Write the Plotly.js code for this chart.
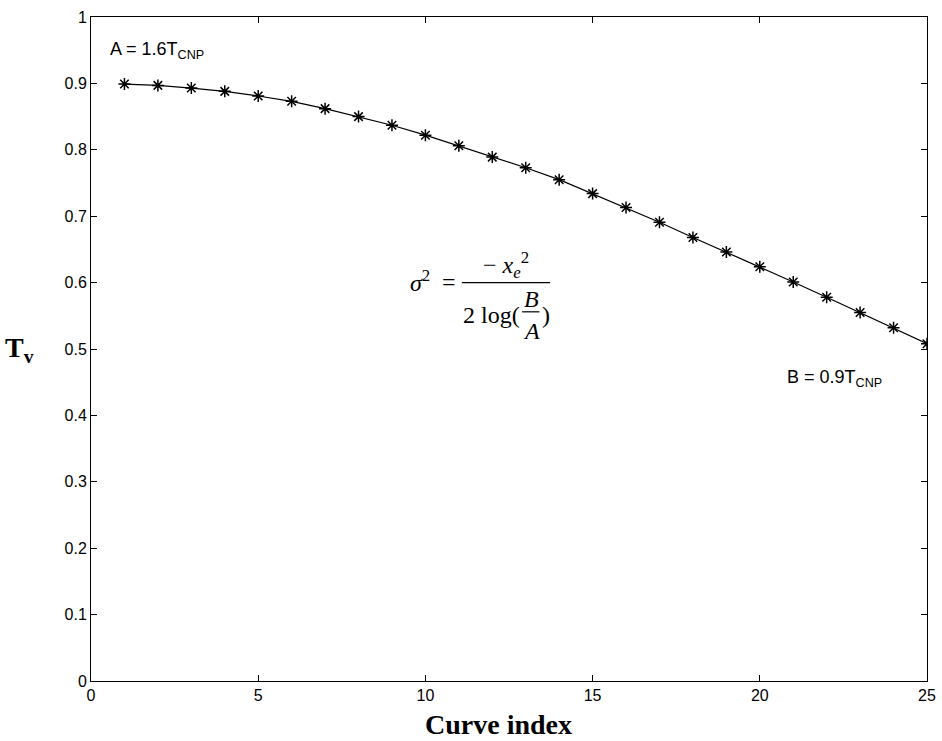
<!DOCTYPE html>
<html>
<head>
<meta charset="utf-8">
<script src="https://cdn.plot.ly/plotly-3.0.1.min.js"></script>
<style>html,body{margin:0;padding:0;background:#fff;}#chart{width:942px;height:741px;}</style>
</head>
<body>
<div id="chart"></div>
<script>
const curveIndex = [1,2,3,4,5,6,7,8,9,10,11,12,13,14,15,16,17,18,19,20,21,22,23,24,25];
const tvValues = [0.899,0.897,0.893,0.888,0.881,0.873,0.862,0.850,0.837,0.822,0.806,0.789,0.773,0.755,0.734,0.713,0.691,0.668,0.646,0.624,0.601,0.578,0.555,0.532,0.508];
const xTicks = [0,5,10,15,20,25];
const yTicks = [0,0.1,0.2,0.3,0.4,0.5,0.6,0.7,0.8,0.9,1];

const trace = {
  x: curveIndex, y: tvValues, type: 'scatter', mode: 'lines+markers',
  line: {color: '#000', width: 1.2},
  marker: {symbol: 'asterisk-open', size: 10, color: '#000', line: {color: '#000', width: 1.5}},
  showlegend: false, hoverinfo: 'skip'
};

const serif = 'Liberation Serif, Times New Roman, serif';
const sans = 'Liberation Sans, Arial, sans-serif';

const layout = {
  width: 942, height: 741,
  margin: {l: 91, r: 15, t: 17, b: 60},
  paper_bgcolor: '#fff', plot_bgcolor: '#fff',
  xaxis: {
    range: [0, 25], tickvals: xTicks, ticktext: xTicks.map(String),
    ticks: 'inside', ticklen: 6, tickcolor: '#000', showline: true, linecolor: '#000', linewidth: 1,
    mirror: 'ticks', showgrid: false, zeroline: false,
    tickfont: {family: sans, size: 16, color: '#000'}
  },
  yaxis: {
    range: [0, 1], tickvals: yTicks, ticktext: yTicks.map(v => String(v)),
    ticks: 'inside', ticklen: 6, tickcolor: '#000', showline: true, linecolor: '#000', linewidth: 1,
    mirror: 'ticks', showgrid: false, zeroline: false,
    tickfont: {family: sans, size: 16, color: '#000'}
  },
  annotations: [
    {xref: 'paper', yref: 'paper', x: 0.488, y: -0.066, text: '<b>Curve index</b>', showarrow: false,
     font: {family: serif, size: 28, color: '#000'}, xanchor: 'center', yanchor: 'middle'},
    {xref: 'paper', yref: 'y', x: -0.085, y: 0.5, text: '<b>T<sub>v</sub></b>', showarrow: false,
     font: {family: serif, size: 28, color: '#000'}, xanchor: 'center', yanchor: 'middle'},
    {xref: 'x', yref: 'y', x: 0.5, y: 0.949, text: 'A = 1.6T<sub>CNP</sub>', showarrow: false,
     font: {family: sans, size: 18, color: '#000'}, xanchor: 'left', yanchor: 'middle'},
    {xref: 'x', yref: 'y', x: 20.75, y: 0.456, text: 'B = 0.9T<sub>CNP</sub>', showarrow: false,
     font: {family: sans, size: 18, color: '#000'}, xanchor: 'left', yanchor: 'middle'},
    {xref: 'x', yref: 'y', x: 9.85, y: 0.603, text: '<i>σ</i><sup>2</sup>', showarrow: false,
     font: {family: serif, size: 24, color: '#000'}, xanchor: 'center', yanchor: 'middle'},
    {xref: 'x', yref: 'y', x: 10.72, y: 0.601, text: '=', showarrow: false,
     font: {family: serif, size: 24, color: '#000'}, xanchor: 'center', yanchor: 'middle'},
    {xref: 'x', yref: 'y', x: 12.4, y: 0.627, text: '− <i>x</i><sub><i>e</i></sub><sup>2</sup>', showarrow: false,
     font: {family: serif, size: 24, color: '#000'}, xanchor: 'center', yanchor: 'middle'},
    {xref: 'x', yref: 'y', x: 12.88, y: 0.551, text: '2 log(', showarrow: false,
     font: {family: serif, size: 24, color: '#000'}, xanchor: 'right', yanchor: 'middle'},
    {xref: 'x', yref: 'y', x: 13.16, y: 0.576, text: '<i>B</i>', showarrow: false,
     font: {family: serif, size: 24, color: '#000'}, xanchor: 'center', yanchor: 'middle'},
    {xref: 'x', yref: 'y', x: 13.16, y: 0.527, text: '<i>A</i>', showarrow: false,
     font: {family: serif, size: 24, color: '#000'}, xanchor: 'center', yanchor: 'middle'},
    {xref: 'x', yref: 'y', x: 13.62, y: 0.551, text: ')', showarrow: false,
     font: {family: serif, size: 24, color: '#000'}, xanchor: 'center', yanchor: 'middle'}
  ],
  shapes: [
    {type: 'line', xref: 'x', yref: 'y', x0: 11.09, x1: 13.73, y0: 0.600, y1: 0.600, line: {color: '#000', width: 1.2}},
    {type: 'line', xref: 'x', yref: 'y', x0: 12.89, x1: 13.41, y0: 0.556, y1: 0.556, line: {color: '#000', width: 1.2}}
  ]
};

Plotly.newPlot('chart', [trace], layout, {staticPlot: true, displayModeBar: false});
</script>
</body>
</html>
